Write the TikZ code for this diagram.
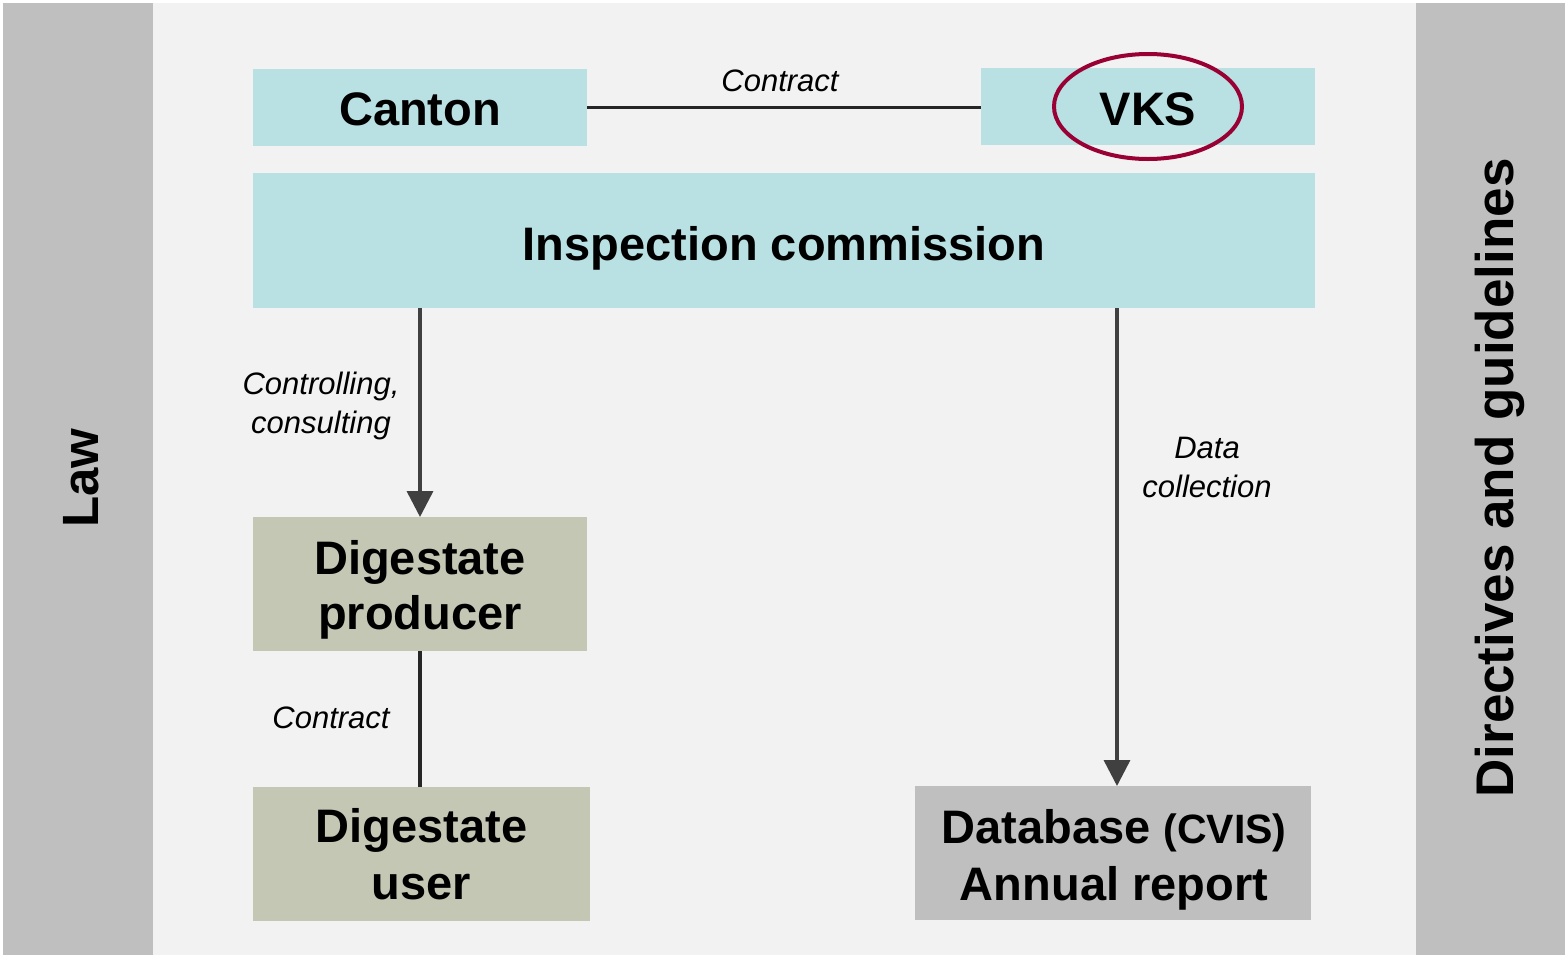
\documentclass[tikz,border=0pt]{standalone}
\usepackage{fontspec}
\setmainfont{Liberation Sans}
\usetikzlibrary{arrows.meta,calc}
\definecolor{bgc}{HTML}{F2F2F2}
\definecolor{band}{HTML}{BFBFBF}
\definecolor{blu}{HTML}{B9E0E3}
\definecolor{olv}{HTML}{C3C7B3}
\definecolor{dbg}{HTML}{BFBFBF}
\definecolor{crim}{HTML}{990033}
\definecolor{arc}{HTML}{404040}
\definecolor{lnc}{HTML}{262626}
\begin{document}
\begin{tikzpicture}[x=1pt,y=-1pt,
  box/.style={inner sep=0pt, outer sep=0pt, anchor=north west},
  txt/.style={inner sep=0pt, anchor=base, font=\bfseries\fontsize{47}{56}\selectfont},
  lbl/.style={inner sep=0pt, align=center, font=\itshape\fontsize{31}{39}\selectfont},
  side/.style={inner sep=0pt, rotate=90, anchor=base, font=\bfseries\fontsize{53}{60}\selectfont},
  conn/.style={draw=lnc, line width=3.5pt},
  arr/.style={draw=arc, line width=3.5pt, -{Triangle[width=26pt,length=26pt]}, arc}
]
\useasboundingbox (0,0) rectangle (1567,959);
\fill[white] (0,0) rectangle (1567,959);
\fill[bgc] (3,3) rectangle (1565,955);
\fill[band] (3,3) rectangle (153,955);
\fill[band] (1416,3) rectangle (1565,955);

\node[side, font=\bfseries\fontsize{51}{60}\selectfont] (law) at (98,478) {Law};
\node[side] (dir) at (1513,478) {Directives and guidelines};

% boxes
\node[box, fill=blu, minimum width=334pt, minimum height=77pt] (canton) at (253,69) {};
\node[box, fill=blu, minimum width=334pt, minimum height=77pt] (vks) at (981,68) {};
\node[box, fill=blu, minimum width=1062pt, minimum height=135pt] (insp) at (253,173) {};
\node[box, fill=olv, minimum width=334pt, minimum height=134pt] (producer) at (253,517) {};
\node[box, fill=olv, minimum width=337pt, minimum height=134pt] (user) at (253,787) {};
\node[box, fill=dbg, minimum width=396pt, minimum height=134pt] (db) at (915,786) {};

% box texts
\node[txt] (cantonT) at (canton.center |- 0,125) {Canton};
\node[txt] (vksT) at (vks.center |- 0,125) {VKS};
\node[txt] (inspT) at (784,260) {Inspection commission};
\node[txt] (prodT1) at (producer.center |- 0,574) {Digestate};
\node[txt] (prodT2) at (producer.center |- 0,629) {producer};
\node[txt] (userT1) at (user.center |- 0,842) {Digestate};
\node[txt] (userT2) at (user.center |- 0,899) {user};
\node[txt] (dbT1) at (1114,843) {Database {\fontsize{41}{56}\selectfont(CVIS)}};
\node[txt] (dbT2) at (1114,900) {Annual report};

\draw[crim, line width=4pt] (vks.center) ellipse [x radius=94, y radius=52.5];

\draw[conn] (canton.east) -- node[lbl, yshift=27pt, xshift=-4pt] (lab0) {Contract} (canton.east -| vks.west);

\draw[arr] (producer.north |- insp.south) -- (producer.north);
\node[lbl] (lab1) at (321,406) {Controlling,\\consulting};

\draw[conn] (producer.south) -- (producer.south |- user.north);
\node[lbl] (lab2) at (331,718) {Contract};

\coordinate (dtop) at (1117,308);
\draw[arr] (dtop) -- (dtop |- db.north);
\node[lbl] (lab3) at (1207,467) {Data\\collection};
\end{tikzpicture}
\end{document}
